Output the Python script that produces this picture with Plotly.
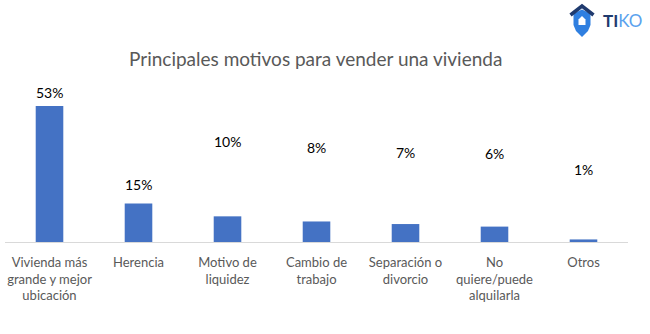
import plotly.graph_objects as go

categories = [
    "Vivienda más<br>grande y mejor<br>ubicación",
    "Herencia",
    "Motivo de<br>liquidez",
    "Cambio de<br>trabajo",
    "Separación o<br>divorcio",
    "No<br>quiere/puede<br>alquilarla",
    "Otros",
]
values = [53, 15, 10, 8, 7, 6, 1]
value_labels = ["53%", "15%", "10%", "8%", "7%", "6%", "1%"]
title_text = "Principales motivos para vender una vivienda"

# styling: pixel offsets of the value labels above bar tops (as in the original)
label_offset_px = [14, 19, 75, 74, 72, 73, 70]

W, H = 650, 334
L, R, T, B = 5, 22, 90, 92
PW, PH = W - L - R, H - T - B

def px(x):
    return (x - L) / PW

def py(y):
    return (H - B - y) / PH

BLUE = "#4472C4"
FONT = "Lato"

fig = go.Figure()
fig.add_trace(go.Bar(
    x=list(range(len(categories))),
    y=values,
    marker=dict(color=BLUE, line=dict(width=0)),
    width=0.31,
    hoverinfo="skip",
))

annotations = []
for i, (v, lab, off) in enumerate(zip(values, value_labels, label_offset_px)):
    annotations.append(dict(
        x=i, y=v, xref="x", yref="y", text=lab, showarrow=False,
        yanchor="middle", yshift=off,
        font=dict(family=FONT, size=14, color="#000000"),
    ))

# Title
annotations.append(dict(
    x=px(315), y=py(58), xref="paper", yref="paper", text=title_text,
    showarrow=False, xanchor="center", yanchor="middle",
    font=dict(family=FONT, size=19, color="#595959"),
))

# Logo text
annotations.append(dict(
    x=px(601), y=py(20), xref="paper", yref="paper",
    text="<b><span style='color:#1f3a6e'>TI</span></b><span style='color:#5aa2ee'>KO</span>",
    showarrow=False, xanchor="left", yanchor="middle",
    font=dict(family=FONT, size=17, color="#1f3a6e"),
))

def path(points, close=True):
    s = "M " + " L ".join(f"{px(x):.5f},{py(y):.5f}" for x, y in points)
    return s + (" Z" if close else "")

shapes = []
# Shield body
shield = [(573.5, 13.5), (582, 9.5), (590.5, 13.5), (590.5, 25), (588, 31), (582, 37),
          (576, 31), (573.5, 25)]
shapes.append(dict(type="path", xref="paper", yref="paper", path=path(shield),
                   fillcolor="#2f7fe0", line=dict(width=0), layer="above"))
# Roof chevron
shapes.append(dict(type="path", xref="paper", yref="paper",
                   path=path([(570.5, 15), (582, 6), (593.5, 15)], close=False),
                   line=dict(color="#1f3a6e", width=3.5), layer="above"))
# White house
house = [(578.5, 19.5), (582, 16), (585.5, 19.5), (585.5, 25), (578.5, 25)]
shapes.append(dict(type="path", xref="paper", yref="paper", path=path(house),
                   fillcolor="#ffffff", line=dict(width=0), layer="above"))

fig.update_layout(
    width=W, height=H,
    margin=dict(l=L, r=R, t=T, b=B, pad=0),
    paper_bgcolor="white", plot_bgcolor="white",
    showlegend=False,
    bargap=0.69,
    annotations=annotations,
    shapes=shapes,
    xaxis=dict(
        range=[-0.5, len(categories) - 0.5],
        tickmode="array", tickvals=list(range(len(categories))), ticktext=categories,
        showline=True, linecolor="#d9d9d9", linewidth=1,
        showgrid=False, zeroline=False, ticks="", ticklen=0,
        ticklabelstandoff=8,
        tickfont=dict(family=FONT, size=13, color="#595959"),
        fixedrange=True,
    ),
    yaxis=dict(
        range=[0, PH / (136 / 53)],
        visible=False, showgrid=False, zeroline=False, fixedrange=True,
    ),
)

fig.write_html("out.html", config={"displayModeBar": False})
